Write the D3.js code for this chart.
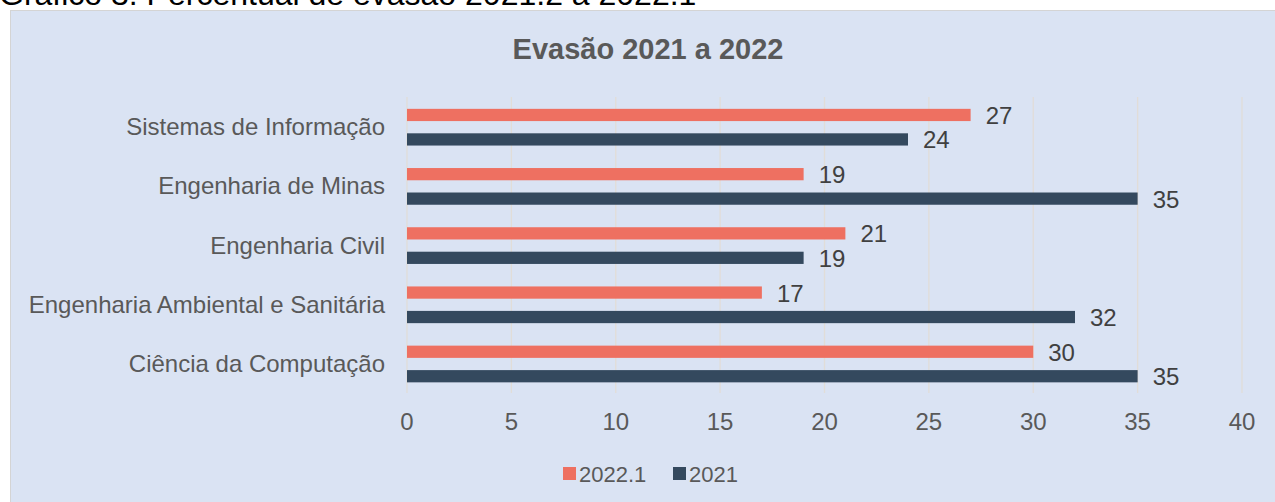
<!DOCTYPE html>
<meta charset="utf-8">
<style>
body { margin: 0; background: #fff; }
svg { font-family: "Liberation Sans", Arial, sans-serif; display: block; }
</style>
<svg width="1275" height="502"></svg>
<script src="https://d3js.org/d3.v7.min.js"></script>
<script>

var courses = ["Sistemas de Informação", "Engenharia de Minas", "Engenharia Civil",
               "Engenharia Ambiental e Sanitária", "Ciência da Computação"];
var seriesNames = ["2022.1", "2021"];
var v2022 = [27, 19, 21, 17, 30];
var v2021 = [24, 35, 19, 32, 35];
var ticks = [0, 5, 10, 15, 20, 25, 30, 35, 40];
var colors = ["#ee7061", "#34495e"];

var svg = d3.select("svg");

// caption above the chart (cut off at the top)
svg.append("text")
    .attr("x", -1).attr("y", 5)
    .attr("font-size", 32)
    .attr("fill", "#000")
    .text("Gráfico 3: Percentual de evasão 2021.2 a 2022.1");

// chart area
svg.append("rect")
    .attr("x", 10.5).attr("y", 10.5)
    .attr("width", 1275).attr("height", 502)
    .attr("fill", "#dae3f3")
    .attr("stroke", "#d4d4d4");

svg.append("text")
    .attr("x", 648).attr("y", 59)
    .attr("text-anchor", "middle")
    .attr("font-size", 29).attr("font-weight", "bold")
    .attr("fill", "#595959")
    .text("Evasão 2021 a 2022");

var x = d3.scaleLinear().domain([0, 40]).range([407, 1242]);
var y = d3.scaleBand().domain(courses).range([97, 393]);
var sub = d3.scaleBand().domain(seriesNames)
    .range([y.bandwidth() * 0.2, y.bandwidth() * 0.82])
    .paddingInner(0.5);

// gridlines
svg.append("g").selectAll("line")
  .data(ticks)
  .join("line")
    .attr("x1", function(d) { return x(d); })
    .attr("x2", function(d) { return x(d); })
    .attr("y1", 97).attr("y2", 393)
    .attr("stroke", "#e1ddd8").attr("stroke-width", 1.3);

// x tick labels
svg.append("g").selectAll("text")
  .data(ticks)
  .join("text")
    .attr("x", function(d) { return x(d); })
    .attr("y", 430)
    .attr("text-anchor", "middle")
    .attr("font-size", 24).attr("fill", "#595959")
    .text(function(d) { return d; });

// category labels
svg.append("g").selectAll("text")
  .data(courses)
  .join("text")
    .attr("x", 385)
    .attr("y", function(d) { return y(d) + y.bandwidth() / 2 + 8.5; })
    .attr("text-anchor", "end")
    .attr("font-size", 24).attr("fill", "#595959")
    .text(function(d) { return d; });

var table = [v2022, v2021];

table.forEach(function(vals, si) {
  var g = svg.append("g");
  var name = seriesNames[si];
  g.selectAll("rect")
    .data(vals)
    .join("rect")
      .attr("x", x(0))
      .attr("y", function(d, i) { return y(courses[i]) + sub(name); })
      .attr("width", function(d) { return x(d) - x(0); })
      .attr("height", sub.bandwidth())
      .attr("fill", colors[si]);
  g.selectAll("text")
    .data(vals)
    .join("text")
      .attr("x", function(d) { return x(d) + 15; })
      .attr("y", function(d, i) { return y(courses[i]) + sub(name) + sub.bandwidth() / 2 + 9; })
      .attr("font-size", 24).attr("fill", "#404040")
      .text(function(d) { return d; });
});

// legend
var legX = [563, 673];
var leg = svg.append("g").selectAll("g")
  .data(seriesNames)
  .join("g")
    .attr("transform", function(d, i) { return "translate(" + legX[i] + ",467)"; });
leg.append("rect")
    .attr("width", 13).attr("height", 13)
    .attr("fill", function(d, i) { return colors[i]; });
leg.append("text")
    .attr("x", 16).attr("y", 15)
    .attr("font-size", 22).attr("fill", "#595959")
    .text(function(d) { return d; });

</script>
